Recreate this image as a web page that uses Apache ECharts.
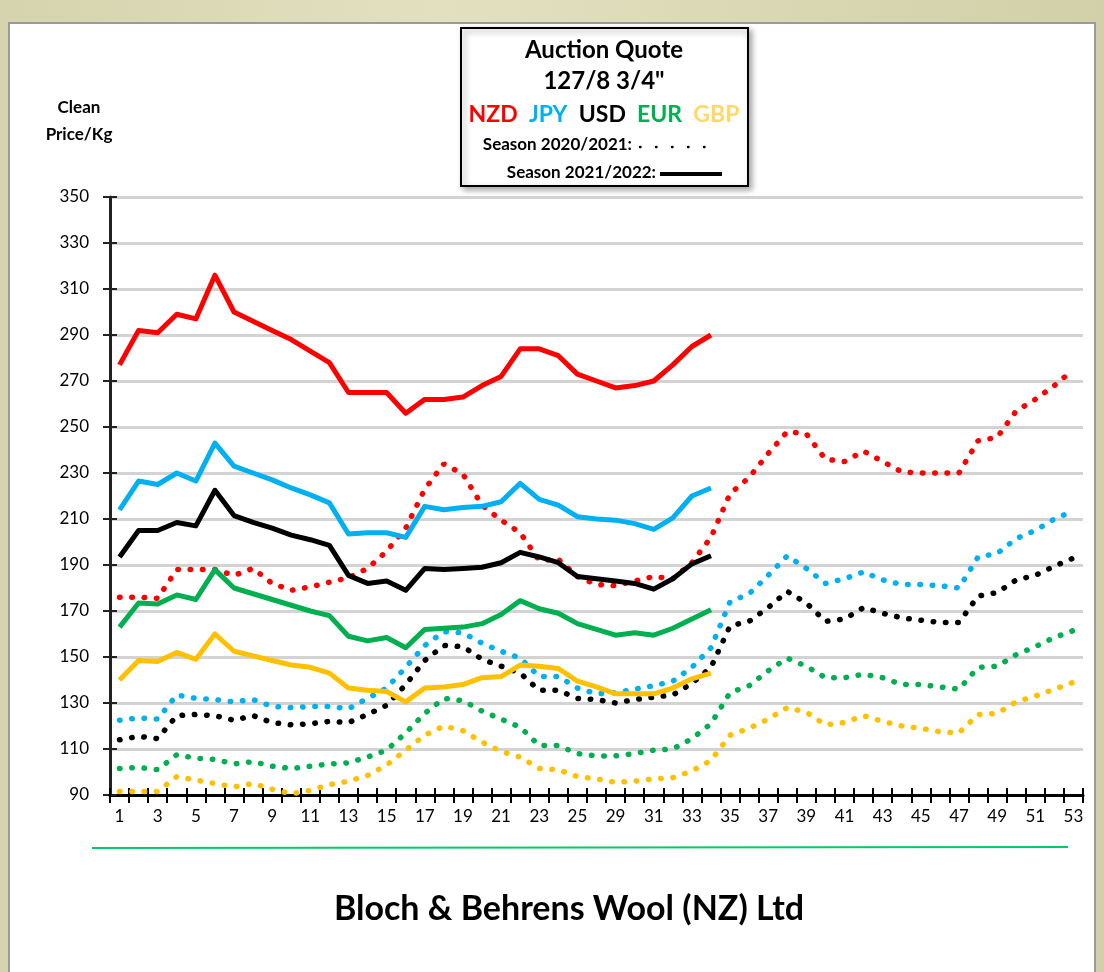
<!DOCTYPE html>
<html>
<head>
<meta charset="utf-8">
<script src="https://cdn.jsdelivr.net/npm/echarts@6/dist/echarts.min.js"></script>
<style>
  html, body { margin: 0; padding: 0; width: 1104px; height: 972px; overflow: hidden; }
  body { background: linear-gradient(90deg, #d6d4ae, #e2e0bf 40%, #d2d0a8); }
  #panel { position: absolute; left: 8px; top: 22px; width: 1088px; height: 960px;
           background: #fff; border: 2px solid #9a9a9a; box-sizing: border-box; }
  #main { position: absolute; left: 0; top: 0; width: 1104px; height: 972px; }
</style>
</head>
<body>
<div id="panel"></div>
<div id="main"></div>
<script>
// sale weeks (no sale in week 26 / 28)
const weeks = ['1', '2', '3', '4', '5', '6', '7', '8', '9', '10', '11', '12', '13', '14', '15', '16',
  '17', '18', '19', '20', '21', '22', '23', '24', '25', '27', '29', '30', '31', '32', '33', '34', '35',
  '36', '37', '38', '39', '40', '41', '42', '43', '44', '45', '46', '47', '48', '49', '50', '51', '52', '53'];

// Season 2021/2022 (solid)
const nzd2122 = [277, 292, 291, 299, 297, 316, 300, 296, 292, 288, 283, 278, 265, 265, 265, 256,
  262, 262, 263, 268, 272, 284, 284, 281, 273, 270, 267, 268, 270, 277, 285, 290];
const jpy2122 = [214, 226.5, 225, 230, 226.5, 243, 233, 230, 227, 223.5, 220.5, 217, 203.5, 204, 204, 202,
  215.5, 214, 215, 215.5, 217.5, 225.5, 218.5, 216, 211, 210, 209.5, 208, 205.5, 210.5, 220, 223.5];
const usd2122 = [193.5, 205, 205, 208.5, 207, 222.5, 211.5, 208.5, 206, 203, 201, 198.5, 185.5, 182, 183, 179,
  188.5, 188, 188.5, 189, 191, 195.5, 193.5, 191, 185, 184, 183, 182, 179.5, 184, 190.5, 194];
const eur2122 = [163, 173.5, 173, 177, 175, 188, 180, 177.5, 175, 172.5, 170, 168, 159, 157, 158.5, 154,
  162, 162.5, 163, 164.5, 168.5, 174.5, 171, 169, 164.5, 162, 159.5, 160.5, 159.5, 162.5, 166.5, 170.5];
const gbp2122 = [140, 148.5, 148, 152, 149, 160, 152.5, 150.5, 148.5, 146.5, 145.5, 143, 136.5, 135.5, 135, 130.5,
  136.5, 137, 138, 141, 141.5, 146.5, 146, 145, 139.5, 137, 134, 134, 134, 136.5, 140.5, 143];

// Season 2020/2021 (dotted)
const nzd2021 = [176, 176, 175.5, 188, 188, 188, 185.5, 188.5, 182, 179, 180.5, 182.5, 184.5, 188.5, 196, 206,
  223, 234, 229.5, 216, 209.5, 204, 192, 192.5, 185, 181.5, 181, 183, 185, 184, 191, 202, 221, 228,
  238.5, 248, 247, 236, 235, 239.5, 235, 230.5, 230, 230, 230, 244, 245.5, 257, 262, 268, 275];
const jpy2021 = [122.5, 123.5, 123, 133.5, 132, 131.5, 130.5, 131.5, 128.5, 128, 128.5, 128.5, 127.5, 132, 136.5, 145.5,
  155, 161, 160.5, 156, 152.5, 149.5, 141.5, 141.5, 136.5, 134, 134.5, 136, 137.5, 139.5, 145.5, 154, 174, 177.5,
  185.5, 194, 188.5, 182, 184, 187, 183.5, 181.5, 181.5, 181, 180, 193.5, 195, 201.5, 205, 210, 213.5];
const usd2021 = [114, 115.5, 114.5, 124.5, 125, 124.5, 122.5, 124.5, 121.5, 120.5, 121, 122, 121.5, 125, 129, 138,
  148.5, 155, 154.5, 149, 146, 143, 135.5, 135.5, 132, 131.5, 130, 131.5, 132.5, 133.5, 138.5, 145.5, 163.5, 165.5,
  171.5, 178.5, 173.5, 165.5, 166.5, 171.5, 169, 167, 166, 165, 165, 176.5, 178, 183.5, 185.5, 189.5, 193];
const eur2021 = [101.5, 102, 101, 107.5, 106, 105.5, 103.5, 104.5, 102.5, 101.5, 102.5, 103.5, 104, 106.5, 109.5, 117,
  125.5, 132, 131, 126.5, 123, 119.5, 111.5, 111.5, 108, 107, 107, 108, 109.5, 110, 114.5, 121, 134.5, 137.5,
  144, 149.5, 146, 141, 141, 142.5, 141, 138, 138, 137, 136, 145.5, 146, 151, 154.5, 158.5, 161.5];
const gbp2021 = [91.5, 91.5, 91.5, 98, 96.5, 95, 93.5, 95, 92.5, 90.5, 92, 94.5, 96, 98.5, 103, 109.5,
  116, 120, 118, 113, 109, 106.5, 101.5, 101, 98, 97, 95.5, 96, 97, 97.5, 100.5, 105, 116, 119,
  123, 128, 126, 120.5, 121.5, 124.5, 122, 120, 119, 117.5, 117, 125, 125.5, 130.5, 133, 136, 139];

const colors = { NZD: '#ff0000', JPY: '#00b0f0', USD: '#000000', EUR: '#00b050', GBP: '#ffc000' };
const font = 'Lato, "Open Sans", sans-serif';

function dotted(name, data, color) {
  return {
    name: name, type: 'line', data: data, symbol: 'none', z: 2,
    lineStyle: { color: color, width: 5.5, type: [0.5, 11.8], cap: 'round' }
  };
}
function solid(name, data, color) {
  return {
    name: name, type: 'line', data: data, symbol: 'none', z: 3,
    lineStyle: { color: color, width: 5, join: 'round' }
  };
}

const myChart = echarts.init(document.getElementById('main'));

const cx = 604;
const rich22 = (c) => ({ fill: c, fontSize: 23, fontWeight: 'bold', fontFamily: font });
myChart.setOption({
  animation: false,
  backgroundColor: 'transparent',
  grid: { left: 110, right: 21, top: 197, bottom: 177 },
  xAxis: [
    {
      type: 'category', data: weeks, boundaryGap: true,
      axisLine: { lineStyle: { color: '#000', width: 3 } },
      axisTick: { show: true, interval: 0, length: 8, lineStyle: { color: '#000', width: 2 } },
      axisLabel: { interval: 1, color: '#000', fontSize: 17, fontFamily: font, margin: 13 },
      splitLine: { show: false }
    },
    {
      type: 'category', data: weeks, boundaryGap: true, position: 'bottom',
      axisLine: { show: false },
      axisTick: { show: true, inside: true, interval: 0, length: 7, lineStyle: { color: '#000', width: 2 } },
      axisLabel: { show: false }
    }
  ],
  yAxis: [
    {
      type: 'value', min: 90, max: 350, interval: 20,
      axisLine: { show: true, lineStyle: { color: '#222', width: 3 } },
      axisTick: { show: true, length: 7, lineStyle: { color: '#222', width: 2 } },
      axisLabel: { color: '#000', fontSize: 17, fontFamily: font, margin: 21 },
      splitLine: { lineStyle: { color: '#d3d3d3', width: 3 } }
    },
    {
      type: 'value', min: 90, max: 350, interval: 20, position: 'left',
      axisLine: { show: false },
      axisTick: { show: true, inside: true, length: 7, lineStyle: { color: '#222', width: 2 } },
      axisLabel: { show: false },
      splitLine: { show: false }
    }
  ],
  series: [
    dotted('NZD 20/21', nzd2021, colors.NZD),
    dotted('JPY 20/21', jpy2021, colors.JPY),
    dotted('USD 20/21', usd2021, colors.USD),
    dotted('EUR 20/21', eur2021, colors.EUR),
    dotted('GBP 20/21', gbp2021, colors.GBP),
    solid('NZD 21/22', nzd2122, colors.NZD),
    solid('JPY 21/22', jpy2122, colors.JPY),
    solid('USD 21/22', usd2122, colors.USD),
    solid('EUR 21/22', eur2122, colors.EUR),
    solid('GBP 21/22', gbp2122, colors.GBP)
  ],
  graphic: [
    // y axis title
    { type: 'text', x: 79, y: 99, style: { text: 'Clean', align: 'center', fontSize: 17, fontWeight: 'bold', fontFamily: font, fill: '#000' } },
    { type: 'text', x: 79, y: 126, style: { text: 'Price/Kg', align: 'center', fontSize: 17, fontWeight: 'bold', fontFamily: font, fill: '#000' } },
    // legend box
    { type: 'rect', shape: { x: 461, y: 28, width: 287, height: 158 },
      style: { fill: '#fff', stroke: '#000', lineWidth: 2, shadowBlur: 6, shadowOffsetX: 3, shadowOffsetY: 3, shadowColor: 'rgba(0,0,0,0.35)' }, z: 10 },
    { type: 'text', x: cx, y: 38, z: 11, style: { text: 'Auction Quote', align: 'center', fontSize: 24, fontWeight: 'bold', fontFamily: font, fill: '#000' } },
    { type: 'text', x: cx, y: 69, z: 11, style: { text: '127/8 3/4"', align: 'center', fontSize: 24, fontWeight: 'bold', fontFamily: font, fill: '#000' } },
    { type: 'text', x: cx, y: 103, z: 11, style: {
        text: '{n|NZD}  {j|JPY}  {u|USD}  {e|EUR}  {g|GBP}', align: 'center',
        fontSize: 23, fontWeight: 'bold', fontFamily: font,
        rich: { n: rich22(colors.NZD), j: rich22(colors.JPY), u: rich22('#000'), e: rich22(colors.EUR), g: rich22('#ffd966') }
      } },
    { type: 'text', x: 632, y: 136, z: 11, style: { text: 'Season 2020/2021:', align: 'right', fontSize: 17, fontWeight: 'bold', fontFamily: font, fill: '#000' } },
    { type: 'line', z: 11, shape: { x1: 640, y1: 147, x2: 720, y2: 147 },
      style: { stroke: '#000', lineWidth: 2.5, lineDash: [0.5, 15.5], lineCap: 'round' } },
    { type: 'text', x: 656, y: 164, z: 11, style: { text: 'Season 2021/2022:', align: 'right', fontSize: 17, fontWeight: 'bold', fontFamily: font, fill: '#000' } },
    { type: 'line', z: 11, shape: { x1: 660, y1: 174, x2: 722, y2: 174 }, style: { stroke: '#000', lineWidth: 4 } },
    // footer
    { type: 'line', shape: { x1: 92, y1: 848, x2: 1068, y2: 847 }, style: { stroke: '#00cc66', lineWidth: 2 } },
    { type: 'text', x: 569, y: 892, style: { text: 'Bloch & Behrens Wool (NZ) Ltd', align: 'center', fontSize: 34, fontWeight: 'bold', fontFamily: font, fill: '#000' } }
  ]
});
</script>
</body>
</html>
